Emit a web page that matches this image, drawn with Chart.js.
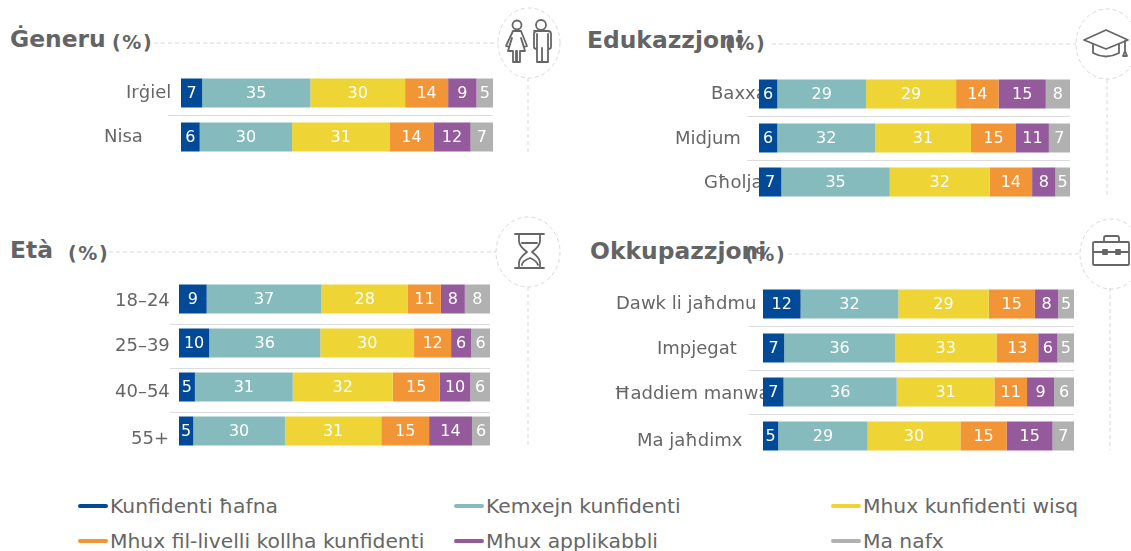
<!DOCTYPE html>
<html>
<head>
<meta charset="utf-8">
<script src="https://cdn.jsdelivr.net/npm/chart.js@4"></script>
<style>
  html, body { margin: 0; padding: 0; background: #fff; overflow: hidden; }
  body { width: 1131px; height: 551px; position: relative; font-family: "DejaVu Sans", sans-serif; color: #666; }
  canvas { position: absolute; left: 0; }
  svg { position: absolute; left: 0; top: 0; }
  .title, .unit { position: absolute; font-weight: bold; color: #636466; white-space: nowrap; line-height: 1; }
  .title { font-size: 23.4px; }
  .unit { font-size: 19px; letter-spacing: 1.6px; }
  .legend-item { position: absolute; font-size: 20.3px; white-space: nowrap; line-height: 1; }
  .legend-item i { position: absolute; left: -32px; top: 8px; width: 30px; height: 4px; border-radius: 2px; }
</style>
</head>
<body>
<svg width="1131" height="551" fill="none" stroke="#d9d9d9" stroke-width="1" stroke-dasharray="4 3">
  <path d="M154 43H498M528 78V152"/><ellipse cx="529" cy="43" rx="31" ry="35"/>
  <path d="M772 44H1076M1107 79V198"/><ellipse cx="1107" cy="44" rx="31" ry="35"/>
  <path d="M109 252H496M528 287V447"/><ellipse cx="528" cy="252" rx="32" ry="35"/>
  <path d="M788 254H1080M1110 288V450"/><ellipse cx="1111" cy="254" rx="31" ry="35"/>
  <g stroke="#666" stroke-width="1.8" stroke-dasharray="none" stroke-linejoin="round" stroke-linecap="round">
    <circle cx="517" cy="25" r="4.5"/>
    <path d="M513 31h8l6 15-3 1-3-9 4 13h-5v11h-3V51h-1v11h-3V51h-5l4-13-3 9-3-1z"/>
    <circle cx="541" cy="25" r="5"/>
    <path d="M534 31h14q3 0 3 3v13q0 2-3 2V34v28h-6V48v14h-5V34v15q-3 0-3-2V34q0-3 3-3z"/>
    <path d="M1084 40l22-10 22 10-22 9z"/>
    <path d="M1093 44v9q13 7 26 0v-9M1125 41v10M1123 56l2-5 2 5z"/>
    <path d="M515 234h29M515 268h29M519 234v7q0 5 8 11-8 6-8 11v5M540 234v7q0 5-8 11 8 6 8 11v5M522 243h15M522 265q0-4 8-7 7 3 8 7"/>
    <path d="M1095 242h33q1 0 1 1v21q0 1-1 1h-33q-2 0-2-1v-21q0-1 2-1zM1093 252h36M1104 242v-4q0-2 2-2h11q2 0 2 2v4"/>
    <path d="M1103 250h4v4h-4zM1116 250h4v4h-4z"/>
  </g>
</svg>

<div class="title" style="left:10px;top:28px">Ġeneru</div><div class="unit" style="left:112px;top:33px">(%)</div>
<div class="title" style="left:587px;top:29px">Edukazzjoni</div><div class="unit" style="left:725px;top:34px">(%)</div>
<div class="title" style="left:10px;top:239px">Età</div><div class="unit" style="left:68px;top:244px">(%)</div>
<div class="title" style="left:590px;top:240px">Okkupazzjoni</div><div class="unit" style="left:745px;top:245px">(%)</div>

<canvas id="generu-chart"></canvas>
<canvas id="edukazzjoni-chart"></canvas>
<canvas id="eta-chart"></canvas>
<canvas id="okkupazzjoni-chart"></canvas>
<div id="legend"></div>

<script>
const seriesNames = ["Kunfidenti ħafna", "Kemxejn kunfidenti", "Mhux kunfidenti wisq",
  "Mhux fil-livelli kollha kunfidenti", "Mhux applikabbli", "Ma nafx"];
const seriesColors = ["#004a97", "#86bbbd", "#eed535", "#f29536", "#945a9b", "#b1b1b1"];

// shares, they round to the numbers printed on the bars
const generuLabels = ["Irġiel", "Nisa"];
const generuValues = [
  [6.8, 34.7, 30.4, 13.8, 9.1, 5.3],
  [6.0, 29.6, 31.2, 14.1, 11.9, 7.2]
];

const edukazzjoniLabels = ["Baxxa", "Midjum", "Għolja"];
const edukazzjoniValues = [
  [5.9, 28.6, 29.0, 13.7, 15.2, 7.8],
  [5.9, 31.5, 30.9, 14.5, 10.6, 6.8],
  [7.2, 34.9, 32.1, 13.7, 7.5, 4.7]
];

const etaLabels = ["18–24", "25–39", "40–54", "55+"];
const etaValues = [
  [8.9, 36.9, 27.8, 10.6, 7.7, 8.1],
  [9.7, 35.7, 30.1, 11.9, 6.4, 6.1],
  [5.1, 31.4, 32.1, 15.1, 9.8, 6.3],
  [4.6, 29.5, 31.0, 15.4, 13.8, 5.8]
];

const okkupazzjoniLabels = ["Dawk li jaħdmu għal rashom", "Impjegat", "Ħaddiem manwali", "Ma jaħdimx"];
const okkupazzjoniValues = [
  [12.1, 31.5, 29.1, 14.9, 7.5, 5.1],
  [6.8, 35.6, 32.6, 13.4, 6.2, 5.3],
  [6.6, 36.4, 31.4, 10.5, 8.7, 6.4],
  [4.9, 28.7, 29.8, 14.9, 14.7, 6.9]
];

const ROW_HEIGHT = 44;
const BAR_HEIGHT = 29;

// category names sit under the bars, some of them get cut off like in the original
const rowLabelPlugin = {
  id: 'rowLabels',
  beforeDatasetsDraw(chart, args, opts) {
    const ctx = chart.ctx;
    const yScale = chart.scales.y;
    ctx.save();
    ctx.font = '18px "DejaVu Sans"';
    ctx.fillStyle = '#666';
    ctx.textAlign = 'left';
    ctx.textBaseline = 'middle';
    chart.data.labels.forEach((label, i) => {
      ctx.fillText(label, opts.labelLeft[i], yScale.getPixelForValue(i) + opts.labelDrop[i]);
    });
    // separators between rows
    ctx.strokeStyle = '#dcdcdf';
    ctx.lineWidth = 1;
    for (let i = 0; i < chart.data.labels.length - 1; i++) {
      const y = Math.round(yScale.getPixelForValue(i) + ROW_HEIGHT / 2 + opts.sepDrop) + 0.5;
      ctx.beginPath();
      ctx.moveTo(opts.sepLeft, y);
      ctx.lineTo(chart.chartArea.right, y);
      ctx.stroke();
    }
    ctx.restore();
  }
};

// printed percentage in the middle of each segment
const valueLabelPlugin = {
  id: 'valueLabels',
  afterDatasetsDraw(chart) {
    const ctx = chart.ctx;
    ctx.save();
    ctx.font = '16px "DejaVu Sans"';
    ctx.fillStyle = '#fff';
    ctx.textAlign = 'center';
    ctx.textBaseline = 'middle';
    chart.data.datasets.forEach((ds, d) => {
      chart.getDatasetMeta(d).data.forEach((bar, i) => {
        const c = bar.getCenterPoint();
        ctx.fillText(ds.printed[i], c.x, c.y + 1);
      });
    });
    ctx.restore();
  }
};

function drawPanel(id, labels, values, box) {
  const canvas = document.getElementById(id);
  canvas.width = box.right + 20;
  canvas.height = labels.length * ROW_HEIGHT;
  canvas.style.top = box.top + 'px';

  // rows don't sum to exactly 100 after reading them off, but every bar is full width
  const datasets = seriesNames.map((name, s) => ({
    label: name,
    backgroundColor: seriesColors[s],
    printed: values.map(row => Math.round(row[s])),
    data: values.map(row => row[s] / row.reduce((a, b) => a + b, 0) * 100),
    categoryPercentage: 1,
    barPercentage: BAR_HEIGHT / ROW_HEIGHT,
    borderWidth: 0
  }));

  return new Chart(canvas, {
    type: 'bar',
    data: { labels: labels, datasets: datasets },
    plugins: [rowLabelPlugin, valueLabelPlugin],
    options: {
      indexAxis: 'y',
      responsive: false,
      animation: false,
      layout: { padding: { left: box.left, right: 20 } },
      scales: {
        x: { stacked: true, min: 0, max: 100, display: false },
        y: { stacked: true, display: false }
      },
      plugins: {
        legend: { display: false },
        tooltip: { enabled: false },
        rowLabels: { labelLeft: box.labelLeft, labelDrop: box.labelDrop, sepLeft: box.sepLeft, sepDrop: box.sepDrop }
      }
    }
  });
}

drawPanel('generu-chart', generuLabels, generuValues, {
  left: 181, right: 493, top: 71, sepLeft: 168, sepDrop: 0,
  labelLeft: [126, 104], labelDrop: [0, 0]
});
drawPanel('edukazzjoni-chart', edukazzjoniLabels, edukazzjoniValues, {
  left: 759, right: 1070, top: 72, sepLeft: 747, sepDrop: 0,
  labelLeft: [711, 675, 704], labelDrop: [0, 1, 1]
});
drawPanel('eta-chart', etaLabels, etaValues, {
  left: 179, right: 490, top: 277, sepLeft: 170, sepDrop: 3,
  labelLeft: [115, 115, 115, 131], labelDrop: [2, 3, 5, 8]
});
drawPanel('okkupazzjoni-chart', okkupazzjoniLabels, okkupazzjoniValues, {
  left: 763, right: 1074, top: 282, sepLeft: 749, sepDrop: 0,
  labelLeft: [616, 657, 614, 637], labelDrop: [0, 1, 2, 5]
});

// shared legend, three columns two rows
const legendLeft = [110, 486, 863];
const legendTop = [496, 531];
const legend = document.getElementById('legend');
seriesNames.forEach((name, i) => {
  const item = document.createElement('div');
  item.className = 'legend-item';
  item.style.left = legendLeft[i % 3] + 'px';
  item.style.top = legendTop[Math.floor(i / 3)] + 'px';
  item.innerHTML = '<i style="background:' + seriesColors[i] + '"></i>' + name;
  legend.appendChild(item);
});
</script>
</body>
</html>
